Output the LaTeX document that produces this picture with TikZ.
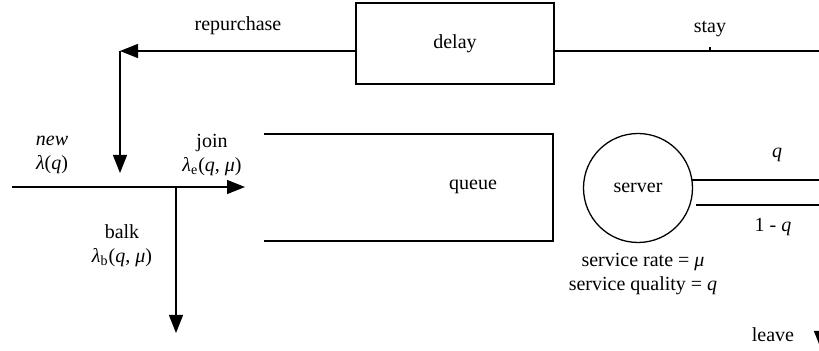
\documentclass[tikz,border=0pt]{standalone}
\usepackage{fontspec}
\setmainfont{Liberation Serif}
\usetikzlibrary{arrows.meta}
\tikzset{
  ln/.style={line width=0.65pt, draw=black},
  arr/.style={ln, -{Triangle[length=9pt,width=7pt]}},
  lbl/.style={font=\fontsize{10}{12}\selectfont, align=center, inner sep=0pt},
  box/.style={ln, rectangle, inner sep=0pt},
}
\begin{document}
\begin{tikzpicture}[x=0.5pt,y=-0.5pt]
\useasboundingbox (0,0) rectangle (819,351);
\clip (0,0) rectangle (819,351);
% delay box
\node[box, minimum width=99pt, minimum height=40.5pt, lbl] (delay) at (455,43.5) {delay};
% coordinates
\coordinate (corner) at (120,51);
\coordinate (rpEnd) at (120,173);
\coordinate (stayEnd) at (830,51);
\coordinate (tick) at (710,51);
\coordinate (src) at (12,187);
\coordinate (br) at (176,187);
\coordinate (joinEnd) at (245,187);
\coordinate (balkEnd) at (176,333);
\coordinate (qTL) at (264,134);
\coordinate (qTR) at (553,134);
\coordinate (qBR) at (553,241);
\coordinate (qBL) at (264,241);
\coordinate (upS) at (692,180);
\coordinate (upE) at (830,180);
\coordinate (loS) at (696,205);
\coordinate (loE) at (830,205);
\coordinate (lvS) at (821,300);
\coordinate (lvE) at (821,349);
% server
\node[ln, circle, minimum size=54.5pt, inner sep=0pt, lbl] (server) at (638,188) {server};
% queue
\draw[ln] (qTL) -- (qTR) -- (qBR) -- (qBL);
\node[lbl] (queue) at (473,187) {queue};
% connectors
\draw[arr] (delay.west |- corner) -- (corner);
\draw[arr] (corner) -- (rpEnd);
\draw[ln] (delay.east |- corner) -- (stayEnd);
\draw[ln] (tick) -- ++(0,-4);
\draw[arr] (src) -- (joinEnd);
\draw[arr] (br) -- (balkEnd);
\draw[ln] (upS) -- (upE);
\draw[ln] (loS) -- (loE);
\draw[arr] (lvS) -- (lvE);
% labels
\node[lbl] (repurchase) at (238,26) {repurchase};
\node[lbl] (stay) at (710,29) {stay};
\node[lbl] (new) at (52,155) {\textit{new}\\\textit{λ}(\textit{q})};
\node[lbl] (join) at (212,155) {join\\\textit{λ}\textsubscript{e}(\textit{q}, \textit{μ})};
\node[lbl] (balk) at (122,246) {balk\\\textit{λ}\textsubscript{b}(\textit{q}, \textit{μ})};
\node[lbl] (qlab) at (777,155) {\textit{q}};
\node[lbl] (nqlab) at (773,227) {1 - \textit{q}};
\node[lbl] (svc) at (643,274) {service rate = \textit{μ}\\service quality = \textit{q}};
\node[lbl] (leave) at (773,335) {leave};
\end{tikzpicture}
\end{document}
